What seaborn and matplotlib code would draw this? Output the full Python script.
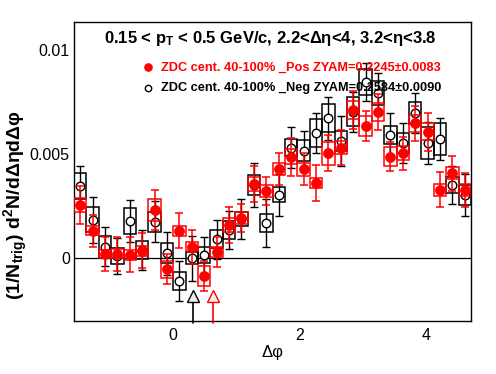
import numpy as np
import pandas as pd
import matplotlib
matplotlib.use("Agg")
import matplotlib.pyplot as plt
import seaborn as sns
from matplotlib.ticker import MultipleLocator, FixedLocator

# ---------------- data ----------------
dphi = [-1.473, -1.276, -1.080, -0.884, -0.687, -0.491, -0.295, -0.098,
        0.098, 0.295, 0.491, 0.687, 0.884, 1.080, 1.276, 1.473,
        1.669, 1.865, 2.062, 2.258, 2.454, 2.651, 2.847, 3.043,
        3.240, 3.436, 3.632, 3.829, 4.025, 4.221, 4.418, 4.614]
bin_width = 0.19635

# ZDC 40-100% Pos (red, filled) -- values x1e-3
pos_y = [2.56, 1.33, 0.21, 0.21, 0.16, 0.36, 2.32, -0.53,
         1.33, 0.56, -0.85, 0.30, 1.60, 1.92, 3.55, 3.23,
         4.29, 4.88, 4.27, 3.60, 5.04, 5.31, 7.12, 6.35,
         7.01, 4.88, 5.04, 6.48, 6.08, 3.28, 4.08, 3.28]
pos_stat = [0.90, 0.77, 0.82, 0.82, 0.84, 0.84, 0.95, 0.72,
            0.86, 0.82, 0.70, 0.72, 0.86, 0.67, 0.86, 0.67,
            0.77, 0.91, 0.77, 0.86, 0.86, 0.84, 0.91, 0.72,
            0.86, 0.70, 0.80, 0.84, 0.91, 0.84, 0.84, 0.82]
pos_sys = [0.32, 0.21, 0.20, 0.22, 0.22, 0.23, 0.53, 0.40,
           0.24, 0.23, 0.48, 0.23, 0.34, 0.29, 0.34, 0.30,
           0.30, 0.36, 0.30, 0.25, 0.56, 0.32, 0.43, 0.48,
           0.42, 0.46, 0.34, 0.40, 0.40, 0.29, 0.29, 0.29]

# ZDC 40-100% Neg (black, open) -- values x1e-3
neg_y = [3.47, 1.84, 0.56, 0.11, 1.80, 0.40, 1.76, 0.24,
         -1.09, 0.00, 0.16, 0.91, 1.36, 1.89, 3.52, 1.71,
         3.04, 5.31, 5.17, 6.00, 6.72, 5.65, 7.04, 8.45,
         7.92, 5.92, 5.52, 6.96, 5.52, 5.73, 3.50, 3.04]
neg_stat = [0.96, 1.10, 0.95, 0.88, 1.00, 0.96, 1.00, 1.04,
            0.95, 1.08, 0.88, 0.95, 0.91, 0.96, 1.06, 1.15,
            1.00, 0.98, 0.96, 0.96, 1.04, 1.20, 0.96, 0.91,
            0.96, 1.06, 0.96, 0.96, 1.00, 1.00, 0.91, 1.00]
neg_sys = [0.62, 0.60, 0.53, 0.40, 0.62, 0.42, 0.48, 0.48,
           0.42, 0.29, 0.38, 0.43, 0.43, 0.34, 0.48, 0.43,
           0.36, 0.40, 0.50, 0.68, 0.68, 0.48, 0.68, 0.62,
           0.58, 0.43, 0.48, 0.53, 0.77, 0.77, 0.38, 0.46]

# ZYAM-minimum markers (triangles)
zyam_x = [0.309, 0.624]
zyam_colors = ["black", "red"]
scale = 1e-3

title_text = r"0.15 < p$_{\mathbf{T}}$ < 0.5 GeV/c, 2.2<Δη<4, 3.2<η<3.8"
pos_label = "ZDC cent. 40-100% _Pos ZYAM=0.2245±0.0083"
neg_label = "ZDC cent. 40-100% _Neg ZYAM=0.2584±0.0090"
ylabel_text = r"(1/N$_{\mathbf{trig}}$) d$^{\mathbf{2}}$N/dΔηdΔφ"
xlabel_text = "Δφ"

# ---------------- style ----------------
sns.set_theme(style="white")
plt.rcParams["font.family"] = ["Liberation Sans", "DejaVu Sans"]
plt.rcParams["mathtext.fontset"] = "custom"
plt.rcParams["mathtext.rm"] = "Liberation Sans"
plt.rcParams["mathtext.it"] = "Liberation Sans:italic"
plt.rcParams["mathtext.bf"] = "Liberation Sans:bold"
for key in ["text.color", "axes.labelcolor", "xtick.color", "ytick.color",
            "axes.edgecolor"]:
    plt.rcParams[key] = "black"

df_pos = pd.DataFrame({"dphi": dphi, "y": np.array(pos_y) * scale,
                       "stat": np.array(pos_stat) * scale,
                       "sys": np.array(pos_sys) * scale})
df_neg = pd.DataFrame({"dphi": dphi, "y": np.array(neg_y) * scale,
                       "stat": np.array(neg_stat) * scale,
                       "sys": np.array(neg_sys) * scale})

fig = plt.figure(figsize=(4.96, 3.74), dpi=100)
ax = fig.add_axes([74 / 496, 1 - 321 / 374, (471 - 74) / 496, (321 - 22) / 374])

ax.axhline(0, color="black", lw=0.9, zorder=1)

# black (Neg) series
ax.bar(df_neg["dphi"], 2 * df_neg["sys"], bottom=df_neg["y"] - df_neg["sys"],
       width=bin_width, fill=False, edgecolor="black", linewidth=1.1, zorder=2)
ax.errorbar(df_neg["dphi"], df_neg["y"], yerr=df_neg["stat"], fmt="none",
            ecolor="black", elinewidth=1.0, capsize=2.6, capthick=1.0, zorder=3)
sns.scatterplot(data=df_neg, x="dphi", y="y", ax=ax, marker="o", s=38,
                facecolor="white", edgecolor="black", linewidth=1.0, zorder=4,
                legend=False)

# red (Pos) series
ax.bar(df_pos["dphi"], 2 * df_pos["sys"], bottom=df_pos["y"] - df_pos["sys"],
       width=bin_width, fill=False, edgecolor="red", linewidth=1.1, zorder=5)
ax.errorbar(df_pos["dphi"], df_pos["y"], yerr=df_pos["stat"], fmt="none",
            ecolor="red", elinewidth=1.1, capsize=2.6, capthick=1.1, zorder=6)
sns.scatterplot(data=df_pos, x="dphi", y="y", ax=ax, marker="o", s=52,
                color="red", edgecolor="red", linewidth=0.5, zorder=7,
                legend=False)

# ZYAM markers
for xv, c in zip(zyam_x, zyam_colors):
    ax.plot([xv, xv], [-0.0031, -0.00210], color=c, lw=1.2, zorder=8, clip_on=False)
    ax.plot([xv], [-0.00183], marker="^", ms=8.5, mfc="#eeeeee", mec=c,
            mew=1.0, zorder=9, clip_on=False)

ax.set_xlim(-np.pi / 2, 3 * np.pi / 2)
ax.set_ylim(-0.00301, 0.01134)

ax.xaxis.set_major_locator(FixedLocator([0, 2, 4]))
ax.xaxis.set_minor_locator(MultipleLocator(0.5))
ax.yaxis.set_major_locator(FixedLocator([0, 0.005, 0.01]))
ax.yaxis.set_minor_locator(MultipleLocator(0.001))
ax.set_xticklabels(["0", "2", "4"])
ax.set_yticklabels(["0", "0.005", "0.01"])

ax.tick_params(axis="both", which="both", direction="in", color="black",
               labelcolor="black", top=False, right=False, width=1.0)
ax.tick_params(axis="y", which="major", length=8.5, labelsize=11.5, pad=3)
ax.tick_params(axis="y", which="minor", length=4.3)
ax.tick_params(axis="x", which="major", length=7, labelsize=11.5, pad=5)
ax.tick_params(axis="x", which="minor", length=3.7)
for sp in ax.spines.values():
    sp.set_visible(True)
    sp.set_color("black")
    sp.set_linewidth(1.0)

ax.set_xlabel("")
ax.set_ylabel("")
fig.text(272 / 496, 1 - 352 / 374, xlabel_text, ha="center", va="center",
         fontsize=12, color="black")
fig.text(16 / 496, 1 - 205 / 374, ylabel_text, ha="center", va="center",
         rotation=90, fontsize=14, fontweight="bold", color="black")

fig.text(270 / 496, 1 - 38 / 374, title_text, ha="center", va="center",
         fontsize=12, fontweight="bold", color="black")

# legend
ax.plot([(148 - 74) / 397], [(321 - 67.3) / 299], transform=ax.transAxes,
        marker="o", ms=5.2, color="red", mec="red", ls="none", clip_on=False)
ax.plot([(148 - 74) / 397], [(321 - 88.3) / 299], transform=ax.transAxes,
        marker="o", ms=4.6, mfc="white", mec="black", mew=1.0, ls="none",
        clip_on=False)
fig.text(161 / 496, 1 - 67.3 / 374, pos_label, ha="left", va="center",
         fontsize=9.2, fontweight="bold", color="red")
fig.text(161 / 496, 1 - 88.3 / 374, neg_label, ha="left", va="center",
         fontsize=9.2, fontweight="bold", color="black")

fig.savefig("out.png", dpi=100, facecolor="white")
